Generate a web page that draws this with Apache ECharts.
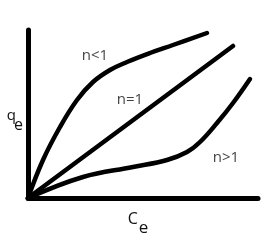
<!DOCTYPE html>
<html><head><meta charset="utf-8">
<script src="https://cdn.jsdelivr.net/npm/echarts@6/dist/echarts.min.js"></script>
<style>html,body{margin:0;padding:0;background:#fff}#c{width:271px;height:245px}</style>
</head><body><div id="c"></div>
<script>
var seriesNames = ['n<1', 'n=1', 'n>1'];
var nLess = [[0,0],[15,38],[32,71],[49,98],[65,116],[82,128],[99,136],[122,145],[145,153],[179,165]];
var nEqual = [[0,0],[205,152]];
var nGreater = [[0,0],[55,21],[105,31],[139,38],[159,46],[172,56],[189,75],[205,95],[222,119]];
var labelPos = [[67,142],[102,98],[198,40]];
var xName = 'C', yName = 'q', sub = 'e';

var chart = echarts.init(document.getElementById('c'));
var lineStyle = {color:'#000', width:4.5, cap:'round', join:'round'};
function mk(name, data){
  return {name:name, type:'line', data:data, smooth:0.4, symbol:'none', lineStyle:lineStyle, silent:true, animation:false};
}
var ff = 'Open Sans, DejaVu Sans, sans-serif';
var labelSeries = {
  type:'scatter', symbolSize:0, animation:false, silent:true,
  data: labelPos.map(function(p,i){return {value:p, name:seriesNames[i]};}),
  label:{show:true, position:'inside', formatter:'{b}', color:'#111', fontFamily:ff, fontSize:15}
};
chart.setOption({
  animation:false,
  grid:{left:28, right:13, top:30, bottom:47, outerBoundsMode:'none', containLabel:false},
  xAxis:{type:'value', min:0, max:230, axisLine:{lineStyle:{color:'#000', width:5, cap:'round'}}, axisTick:{show:false}, axisLabel:{show:false}, splitLine:{show:false},
    name:'{m|'+xName+'}{s|'+sub+'}', nameLocation:'middle', nameGap:13,
    nameTextStyle:{verticalAlign:'top', padding:[0,10,0,0], rich:{m:{fontSize:16, color:'#111', fontFamily:ff, verticalAlign:'top'}, s:{fontSize:17, color:'#111', fontFamily:ff, padding:[9,0,0,1]}}}},
  yAxis:{type:'value', min:0, max:168, axisLine:{lineStyle:{color:'#000', width:5, cap:'round'}}, axisTick:{show:false}, axisLabel:{show:false}, splitLine:{show:false},
    name:'{m|'+yName+'}{s|'+sub+'}', nameLocation:'middle', nameGap:5, nameRotate:0,
    nameTextStyle:{verticalAlign:'top', padding:[0,0,0,0], rich:{m:{fontSize:15, color:'#111', fontFamily:ff, verticalAlign:'top', padding:[-6,0,0,0]}, s:{fontSize:16, color:'#111', fontFamily:ff, padding:[3,0,0,-2]}}}},
  series:[mk(seriesNames[0], nLess), mk(seriesNames[1], nEqual), mk(seriesNames[2], nGreater), labelSeries]
});
</script></body></html>
